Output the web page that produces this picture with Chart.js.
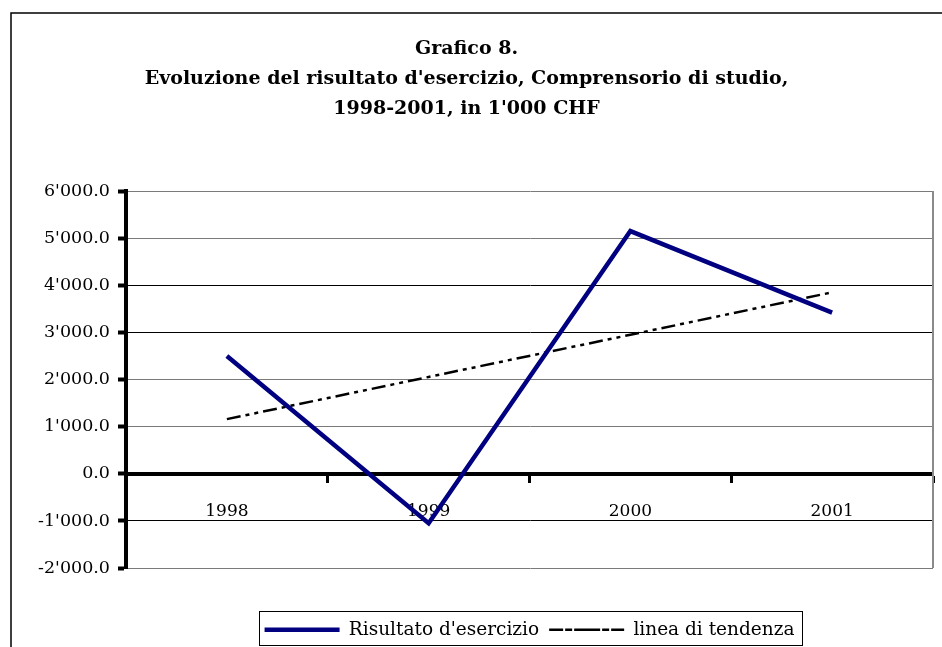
<!DOCTYPE html>
<html>
<head>
<meta charset="utf-8">
<script src="https://cdn.jsdelivr.net/npm/chart.js@4.4.1/dist/chart.umd.min.js"></script>
<style>
  html, body { margin: 0; padding: 0; background: #fff; }
  #wrap { position: relative; width: 942px; height: 647px; }
</style>
</head>
<body>
<div id="wrap"><canvas id="myChart" width="942" height="647"></canvas></div>
<script>
// data
const years = ['1998', '1999', '2000', '2001'];
const risultato = [2500, -1050, 5150, 3420];
const tendenza = [1160, 2055, 2950, 3850];
const yTicks = [-2000, -1000, 0, 1000, 2000, 3000, 4000, 5000, 6000];
const titleLines = [
  'Grafico 8.',
  "Evoluzione del risultato d'esercizio, Comprensorio di studio,",
  "1998-2001, in 1'000 CHF"
];

const serif = "'DejaVu Serif', serif";

const fmt = (v) => {
  const parts = Math.abs(v).toFixed(1).split('.');
  return (v < 0 ? '-' : '') + parts[0].replace(/\B(?=(\d{3})+(?!\d))/g, "'") + '.' + parts[1];
};

// gridline shades as in the scan
const gridShade = (v) => ([4000, 3000, -1000].includes(v) ? '#000' : '#7a7a7a');

const decor = {
  id: 'decor',
  beforeDatasetsDraw(chart) {
    const { ctx, chartArea: a } = chart;
    ctx.save();
    ctx.strokeStyle = '#8a8a8a';
    ctx.lineWidth = 2;
    ctx.beginPath();
    ctx.moveTo(a.right, a.top);
    ctx.lineTo(a.right, a.bottom);
    ctx.stroke();
    ctx.restore();
  },
  afterDraw(chart) {
    const ctx = chart.ctx;
    const hb = chart.legend.legendHitBoxes;
    ctx.save();
    ctx.strokeStyle = '#000';
    ctx.lineWidth = 1;
    if (hb && hb.length) {
      const first = hb[0], last = hb[hb.length - 1];
      const cy = first.top + first.height / 2;
      const l = Math.round(first.left - 6) + 0.5;
      const r = Math.round(last.left + last.width + 8) + 0.5;
      ctx.strokeRect(l, Math.round(cy - 19) + 0.5, r - l, 34);
    }
    // outer frame
    ctx.lineWidth = 1.5;
    ctx.beginPath();
    ctx.moveTo(11, 647);
    ctx.lineTo(11, 13);
    ctx.lineTo(942, 13);
    ctx.stroke();
    ctx.restore();
  }
};

new Chart(document.getElementById('myChart').getContext('2d'), {
  type: 'line',
  data: {
    labels: years,
    datasets: [
      {
        label: "Risultato d'esercizio",
        data: risultato,
        borderColor: '#000080',
        backgroundColor: '#000080',
        borderWidth: 4.5,
        pointRadius: 0,
        tension: 0
      },
      {
        label: 'linea di tendenza',
        data: tendenza,
        borderColor: '#000',
        backgroundColor: '#000',
        borderWidth: 2.5,
        borderDash: [14, 5, 4, 5, 4, 5],
        pointRadius: 0,
        tension: 0
      }
    ]
  },
  options: {
    responsive: false,
    animation: false,
    layout: { padding: { left: 0, right: 9, top: 0, bottom: -2 } },
    plugins: {
      title: {
        display: true,
        text: titleLines,
        color: '#000',
        font: { family: serif, size: 19, weight: 'bold', lineHeight: 30 / 19 },
        padding: { top: 34, bottom: 67 }
      },
      legend: {
        position: 'bottom',
        fullSize: false,
        title: { display: true, text: '', font: { size: 2 }, padding: { top: 40, bottom: 0 } },
        labels: {
          color: '#000',
          font: { family: serif, size: 18.5 },
          boxWidth: 75,
          boxHeight: 0,
          padding: 10
        }
      },
      tooltip: { enabled: false }
    },
    scales: {
      x: {
        position: { y: 0 },
        offset: true,
        grid: {
          offset: true,
          drawOnChartArea: false,
          drawTicks: true,
          tickLength: 7,
          tickWidth: 3,
          tickColor: '#000'
        },
        border: { display: true, color: '#000', width: 4 },
        ticks: {
          color: '#000',
          font: { family: serif, size: 17 },
          padding: 21,
          maxRotation: 0
        }
      },
      y: {
        min: -2000,
        max: 6000,
        afterFit(s) { s.width = 126; },
        afterBuildTicks(s) { s.ticks = yTicks.map(v => ({ value: v })); },
        grid: {
          color: (c) => gridShade(c.tick ? c.tick.value : 0),
          lineWidth: 1,
          tickLength: 8,
          tickWidth: 4,
          tickColor: '#000'
        },
        border: { display: true, color: '#000', width: 4 },
        ticks: {
          color: '#000',
          font: { family: serif, size: 17.5 },
          padding: 8,
          callback: (v) => fmt(v)
        }
      }
    }
  },
  plugins: [decor]
});
</script>
</body>
</html>
